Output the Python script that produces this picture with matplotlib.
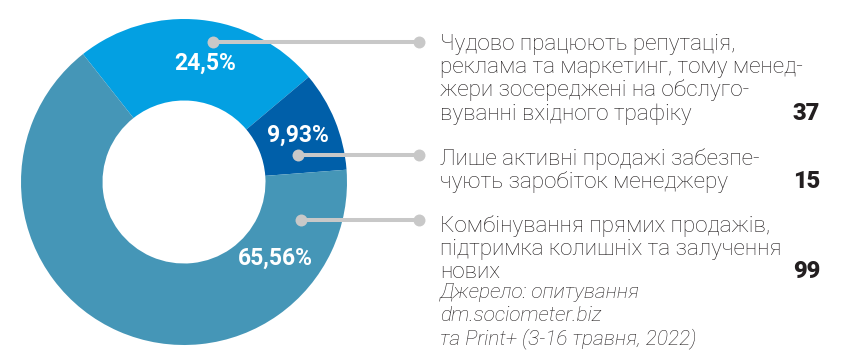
import matplotlib
matplotlib.use("Agg")
import matplotlib.pyplot as plt

plt.rcParams["font.family"] = ["Roboto", "DejaVu Sans"]

# data
values = [37, 15, 99]
pct_labels = ["24,5%", "9,93%", "65,56%"]
answers = [
    "Чудово працюють репутація,\nреклама та маркетинг, тому менед-\nжери зосереджені на обслуго-\nвуванні вхідного трафіку",
    "Лише активні продажі забезпе-\nчують заробіток менеджеру",
    "Комбінування прямих продажів,\nпідтримка колишніх та залучення\nнових",
]
source = "Джерело: опитування\ndm.sociometer.biz\nта Print+ (3-16 травня, 2022)"
colors = ["#03a0e2", "#005fa9", "#4596b7"]

W, H = 852, 352
CX, CY, R = 184, H - 182, 163
TEXT_COLOR = "#231f20"
LINE_COLOR = "#c8c8c8"


def img_y(y):
    return H - y


fig = plt.figure(figsize=(W / 100, H / 100), dpi=100)
ax = fig.add_axes([0, 0, 1, 1])

ax.pie(values, colors=colors, startangle=128.3, counterclock=False,
       center=(CX, CY), radius=R,
       wedgeprops=dict(width=R * 0.5, linewidth=0))

ax.set_xlim(0, W)
ax.set_ylim(0, H)
ax.set_aspect("equal")
ax.axis("off")

# percentage labels inside the ring
pct_pos = [(205, 63), (298, 135), (275, 258)]
for txt, (x, y) in zip(pct_labels, pct_pos):
    ax.text(x, img_y(y), txt, color="white", fontsize=16.5, fontweight="bold",
            ha="center", va="center")

# leader lines
dot_start = [(213, 42), (298, 155), (301, 220)]
for x0, y0 in dot_start:
    ax.plot([x0, 419], [img_y(y0), img_y(y0)], color=LINE_COLOR, lw=2.9,
            solid_capstyle="butt", zorder=3)
    ax.plot([x0, 419], [img_y(y0), img_y(y0)], "o", color=LINE_COLOR,
            markersize=8.6, markeredgewidth=0, zorder=4)

# answer texts and counts
first_baseline = [50, 165, 232]
step = 23.2
for text, val, b0 in zip(answers, values, first_baseline):
    lines = text.split("\n")
    for i, line in enumerate(lines):
        ax.text(440, img_y(b0 + i * step), line, fontsize=16.2,
                fontweight="light", color=TEXT_COLOR, ha="left", va="baseline")
    ax.text(820, img_y(b0 + (len(lines) - 1) * step), str(val),
            fontsize=17, fontweight="black", color=TEXT_COLOR,
            ha="right", va="baseline")

for i, line in enumerate(source.split("\n")):
    ax.text(440, img_y(298 + i * step), line, fontsize=15, style="italic",
            fontweight="light", color=TEXT_COLOR, ha="left", va="baseline")

fig.savefig("out.png", dpi=100)
